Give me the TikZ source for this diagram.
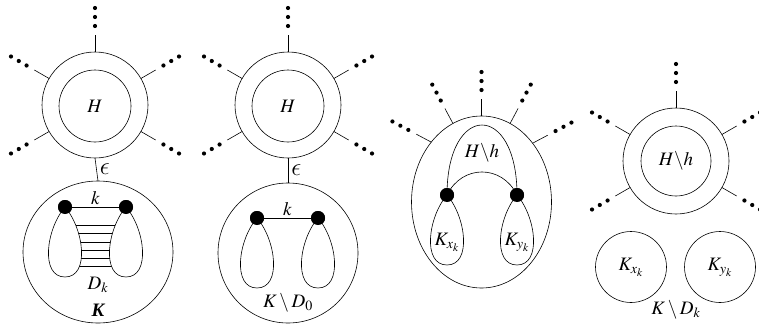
\documentclass[tikz,border=0pt]{standalone}
\usepackage{mathptmx}
\usepackage{graphicx}
\usepackage[no-math]{fontspec}
\newfontfamily\boldkfont{Liberation Serif}
\DeclareSymbolFont{cmletters}{OML}{cmm}{m}{it}
\DeclareMathSymbol{\cmepsilon}{\mathord}{cmletters}{"0F}
\usetikzlibrary{calc,shapes.geometric}
\begin{document}
\begin{tikzpicture}[x=1pt,y=1pt,line width=0.6pt,
  ring/.style={circle,draw,inner sep=0pt,outer sep=0pt,minimum size=#1},
  oval/.style n args={2}{ellipse,draw,inner sep=0pt,outer sep=0pt,minimum width=#1,minimum height=#2},
  lbl/.style={inner sep=0pt,font=\fontsize{19}{22}\selectfont},
  eps/.style={inner sep=0pt,font=\fontsize{19}{22}\selectfont,right=3pt},
  bigdot/.style={circle,fill,inner sep=0pt,minimum size=14pt},
  rung/.style={line width=0.45pt}]
\useasboundingbox (0,0) rectangle (759,325);
% spoke macro: anchor node, anchor angle, direction
\newcommand\myspoke[3]{%
  \draw (#1.#2) -- ($(#1.#2)+(#3:17)$);
  \foreach \r in {26,35,44} \fill ($(#1.#2)+(#3:\r)$) circle (2.1);}
\newcommand\mylobe[1]{%
  \filldraw[fill=white] (#1.center) .. controls ($(#1)+(-19,-22)$) and ($(#1)+(-25,-70)$) .. ($(#1)+(0,-70)$)
    .. controls ($(#1)+(25,-70)$) and ($(#1)+(19,-22)$) .. (#1.center);}
\newcommand\bigeps{\scalebox{1.45}{$\cmepsilon$}}

% ---------- Panel 1 ----------
\node[ring=106pt] (h1o) at (95,220) {};
\node[ring=72pt,lbl] (h1i) at (95,219) {$H$};
\foreach \a in {90,30,150,210,330} {\myspoke{h1o}{\a}{\a}}
\node[oval={150pt}{142pt}] (k1) at (98,73) {};
\draw (h1o.south) -- (k1.north) node[midway,eps] {\bigeps};
\node[bigdot] (d1a) at (65,118) {};
\node[bigdot] (d1b) at (126,118) {};
\foreach \y in {100,92,83,75,67,59} \draw[rung] (65,\y) -- (126,\y);
\mylobe{d1a}
\mylobe{d1b}
\node[bigdot] at (d1a) {};
\node[bigdot] at (d1b) {};
\draw[line width=1pt] (d1a) -- (d1b) node[midway,above=2pt,lbl] {$k$};
\node[lbl] (dk1) at (98,40) {$D_k$};
\node[lbl] (kk1) at (98,15) {\boldkfont\bfseries\itshape K};

% ---------- Panel 2 ----------
\node[ring=106pt] (h2o) at (288,220) {};
\node[ring=72pt,lbl] (h2i) at (288,219) {$H$};
\foreach \a in {90,30,150,210,330} {\myspoke{h2o}{\a}{\a}}
\node[ring=140pt] (k2) at (288,72) {};
\draw (h2o.south) -- (k2.north) node[midway,eps] {\bigeps};
\node[bigdot] (d2a) at (257,107) {};
\node[bigdot] (d2b) at (318,107) {};
\mylobe{d2a}
\mylobe{d2b}
\node[bigdot] at (d2a) {};
\node[bigdot] at (d2b) {};
\draw (d2a) -- (d2b) node[midway,above=2pt,lbl] {$k$};
\node[lbl] (kd2) at (288,22) {$K\setminus D_0$};

% ---------- Panel 3 ----------
\node[oval={140pt}{172pt}] (e3) at (481.5,123) {};
\myspoke{e3}{90}{90}
\myspoke{e3}{110}{118}
\myspoke{e3}{130.6}{152}
\myspoke{e3}{70}{62}
\myspoke{e3}{49.4}{28}
\node[bigdot] (d3a) at (447,130) {};
\node[bigdot] (d3b) at (517,130) {};
\draw (d3a.center) .. controls (447,223.3) and (517,223.3) .. (d3b.center);
\draw (d3a.center) .. controls (462,160.7) and (502,160.7) .. (d3b.center);
\node[lbl] (hh3) at (482,172) {$H\backslash h$};
\mylobe{d3a}
\mylobe{d3b}
\node[bigdot] at (d3a) {};
\node[bigdot] at (d3b) {};
\node[lbl] (kx3) at (447,83) {$K_{x_k}$};
\node[lbl] (ky3) at (517,83) {$K_{y_k}$};

% ---------- Panel 4 ----------
\node[ring=106pt] (h4o) at (676,164) {};
\node[ring=70pt,lbl] (h4i) at (676,164) {$H\backslash h$};
\foreach \a in {90,30,150,210,330} {\myspoke{h4o}{\a}{\a}}
\node[ring=71pt,lbl] (kx4) at (631,58) {$K_{x_k}$};
\node[ring=71pt,lbl] (ky4) at (720,58) {$K_{y_k}$};
\node[lbl] (kd4) at (676,15) {$K\setminus D_k$};
\end{tikzpicture}
\end{document}
